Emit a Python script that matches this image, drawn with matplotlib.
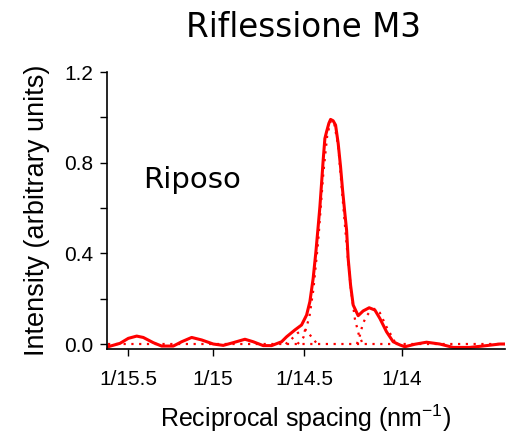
import numpy as np
import matplotlib.pyplot as plt

# Reciprocal spacing (nm^-1) and intensity of the fitted profile
q_fit = [0.064011, 0.064314, 0.064524, 0.064736, 0.064902, 0.065155, 0.065367, 0.065660,
         0.065872, 0.066125, 0.066377, 0.066670, 0.066923, 0.067175, 0.067471, 0.067680,
         0.067933, 0.068145, 0.068397, 0.068524, 0.068733, 0.068902, 0.069029, 0.069112,
         0.069195, 0.069264, 0.069322, 0.069365, 0.069407, 0.069448, 0.069491, 0.069534,
         0.069592, 0.069635, 0.069700, 0.069761, 0.069827, 0.069887, 0.069938, 0.069996,
         0.070039, 0.070079, 0.070140, 0.070206, 0.070332, 0.070458, 0.070610, 0.070754,
         0.070880, 0.071049, 0.071216, 0.071385, 0.071511, 0.071764, 0.072059, 0.072395,
         0.072731, 0.073152, 0.073574, 0.073910, 0.074036]
i_fit = [-0.012, 0.003, 0.025, 0.035, 0.029, 0.006, -0.009, -0.009,
         0.010, 0.029, 0.018, 0.000, -0.006, 0.006, 0.021, 0.010,
         -0.007, -0.007, 0.010, 0.032, 0.062, 0.084, 0.128, 0.187,
         0.290, 0.407, 0.520, 0.606, 0.709, 0.812, 0.907, 0.937,
         0.974, 0.991, 0.985, 0.966, 0.885, 0.782, 0.679, 0.576,
         0.503, 0.378, 0.260, 0.172, 0.125, 0.146, 0.160, 0.150,
         0.113, 0.054, 0.010, -0.004, -0.012, -0.001, 0.008, 0.000,
         -0.015, -0.015, -0.007, 0.000, 0.000]

# Individual components (dotted)
q_main = [0.06880, 0.06895, 0.06910, 0.06920, 0.06932, 0.06945, 0.06955, 0.06964,
          0.06972, 0.06983, 0.06995, 0.07005, 0.07015, 0.07025, 0.07035, 0.07045]
i_main = [0.0, 0.03, 0.12, 0.24, 0.45, 0.75, 0.92, 0.985,
          0.98, 0.87, 0.62, 0.42, 0.24, 0.11, 0.04, 0.0]

q_left = [0.06850, 0.06865, 0.06880, 0.06893, 0.06905, 0.06918, 0.06930]
i_left = [0.0, 0.022, 0.048, 0.062, 0.055, 0.025, 0.0]

q_right = [0.07030, 0.07038, 0.07045, 0.07055, 0.07065, 0.07075, 0.07088, 0.07105, 0.07125, 0.07135]
i_right = [0.0, 0.04, 0.09, 0.125, 0.148, 0.155, 0.138, 0.075, 0.012, 0.0]

q_base = [0.06401, 0.07404]
i_base = [0.0, 0.0]

tick_pos = [1 / 15.5, 1 / 15, 1 / 14.5, 1 / 14]
tick_labels = ["1/15.5", "1/15", "1/14.5", "1/14"]

plt.rcParams['font.family'] = ['Liberation Sans', 'DejaVu Sans']

fig = plt.figure(figsize=(5.2, 4.41), dpi=100)
ax = fig.add_axes([0.2058, 0.2086, 0.7652, 0.628])

red = '#ff0000'
dots = (0, (1, 2.5))
for qq, ii in [(q_base, i_base), (q_main, i_main), (q_left, i_left), (q_right, i_right)]:
    ax.plot(qq, ii, color=red, lw=1.6, ls=dots)
ax.plot(q_fit, i_fit, color=red, lw=2.2, solid_joinstyle='round')

ax.set_xlim(0.063986, 0.07404)
ax.set_ylim(-0.022, 1.2)

ax.set_xticks(tick_pos)
ax.set_xticklabels(tick_labels)
yt = np.arange(0, 1.21, 0.2)
ax.set_yticks(yt)
ax.set_yticklabels(["0.0", "", "0.4", "", "0.8", "", "1.2"])

ax.spines['top'].set_visible(False)
ax.spines['right'].set_visible(False)
ax.spines['left'].set_linewidth(1.2)
ax.spines['bottom'].set_linewidth(1.2)
ax.tick_params(axis='both', direction='out', length=5, width=1.0, labelsize=15)
ax.tick_params(axis='x', pad=10)
ax.tick_params(axis='y', pad=5)

ax.set_xlabel("Reciprocal spacing (nm$^{\\mathregular{-1}}$)", fontsize=18, labelpad=10)
ax.set_ylabel("Intensity (arbitrary units)", fontsize=19.5, labelpad=10)

fig.text(0.583, 0.937, "Riflessione M3", fontsize=23.5, ha='center', va='center',
         family=['DejaVu Sans'])
ax.text(0.064895, 0.723, "Riposo", fontsize=21, ha='left', va='center',
        family=['DejaVu Sans'])

fig.savefig("out.png", dpi=100)
